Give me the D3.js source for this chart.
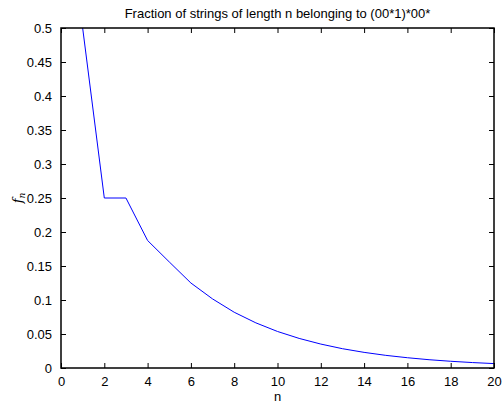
<!DOCTYPE html>
<html>
<head>
<meta charset="utf-8">
<script src="https://cdn.jsdelivr.net/npm/d3@7"></script>
<style>
  body { margin: 0; background: #fff; }
  text { font-family: "Liberation Sans", Arial, sans-serif; }
</style>
</head>
<body>
<div id="chart"></div>
<script>

var n_values = [1, 2, 3, 4, 5, 6, 7, 8, 9, 10, 11, 12, 13, 14, 15, 16, 17, 18, 19, 20];
var fractions = [0.5, 0.25, 0.25, 0.1875, 0.156, 0.125, 0.1016, 0.082, 0.0664, 0.0537,
                 0.0435, 0.0352, 0.0284, 0.023, 0.0186, 0.0151, 0.0122, 0.0099, 0.008, 0.0065];
var x_ticks = [0, 2, 4, 6, 8, 10, 12, 14, 16, 18, 20];
var y_ticks = [0, 0.05, 0.1, 0.15, 0.2, 0.25, 0.3, 0.35, 0.4, 0.45, 0.5];

var data = n_values.map(function (d, i) { return {n: d, f: fractions[i]}; });

const margin = {top: 28, right: 10, bottom: 36, left: 61},
    width = 504 - margin.left - margin.right,
    height = 404 - margin.top - margin.bottom;

const svg = d3.select("#chart")
    .append("svg")
    .attr("width", 504)
    .attr("height", 404);

const g = svg.append("g")
    .attr("transform", "translate(" + margin.left + "," + margin.top + ")");

var xScale = d3.scaleLinear().domain([0, 20]).range([0, width]);
var yScale = d3.scaleLinear().domain([0, 0.5]).range([height, 0]);

g.append("clipPath")
    .attr("id", "clip")
    .append("rect")
    .attr("width", width)
    .attr("height", height);

var line = d3.line()
    .x(function (d) { return xScale(d.n); })
    .y(function (d) { return yScale(d.f); });

g.append("path")
    .datum(data)
    .attr("clip-path", "url(#clip)")
    .attr("fill", "none")
    .attr("stroke", "#0000ff")
    .attr("stroke-width", 1)
    .attr("d", line);

function styleAxis(sel) {
    sel.select(".domain").remove();
    sel.selectAll(".tick line").attr("stroke", "#000");
    sel.selectAll(".tick text").style("font-size", "13px").attr("fill", "#000");
}

// bottom axis, ticks pointing inward
g.append("g")
    .attr("transform", "translate(0," + height + ")")
    .call(d3.axisBottom(xScale).tickValues(x_ticks).tickSizeInner(-5).tickSizeOuter(0).tickPadding(9)
        .tickFormat(d3.format("d")))
    .call(styleAxis);

g.append("g")
    .call(d3.axisLeft(yScale).tickValues(y_ticks).tickSizeInner(-5).tickSizeOuter(0).tickPadding(9)
        .tickFormat(function (d) { return d === 0 ? "0" : d3.format("")(d); }))
    .call(styleAxis);

// top and right ticks, no labels
g.append("g")
    .call(d3.axisTop(xScale).tickValues(x_ticks).tickSizeInner(-5).tickSizeOuter(0).tickFormat(""))
    .call(styleAxis);

g.append("g")
    .attr("transform", "translate(" + width + ",0)")
    .call(d3.axisRight(yScale).tickValues(y_ticks).tickSizeInner(-5).tickSizeOuter(0).tickFormat(""))
    .call(styleAxis);

g.append("rect")
    .attr("width", width)
    .attr("height", height)
    .attr("fill", "none")
    .attr("stroke", "#000")
    .attr("stroke-width", 1.5);

svg.append("text")
    .attr("x", margin.left + width / 2)
    .attr("y", 18)
    .attr("text-anchor", "middle")
    .style("font-size", "13px")
    .text("Fraction of strings of length n belonging to (00*1)*00*");

svg.append("text")
    .attr("x", margin.left + width / 2)
    .attr("y", 401)
    .attr("text-anchor", "middle")
    .style("font-size", "13px")
    .text("n");

var ylab = svg.append("text")
    .attr("transform", "translate(22," + (margin.top + height / 2) + ") rotate(-90)")
    .attr("text-anchor", "middle")
    .style("font-size", "13px")
    .style("font-style", "italic")
    .style("font-family", "DejaVu Serif, serif");
ylab.append("tspan").text("f");
ylab.append("tspan").attr("dy", 3).style("font-size", "9px").text("n");

</script>
</body>
</html>
